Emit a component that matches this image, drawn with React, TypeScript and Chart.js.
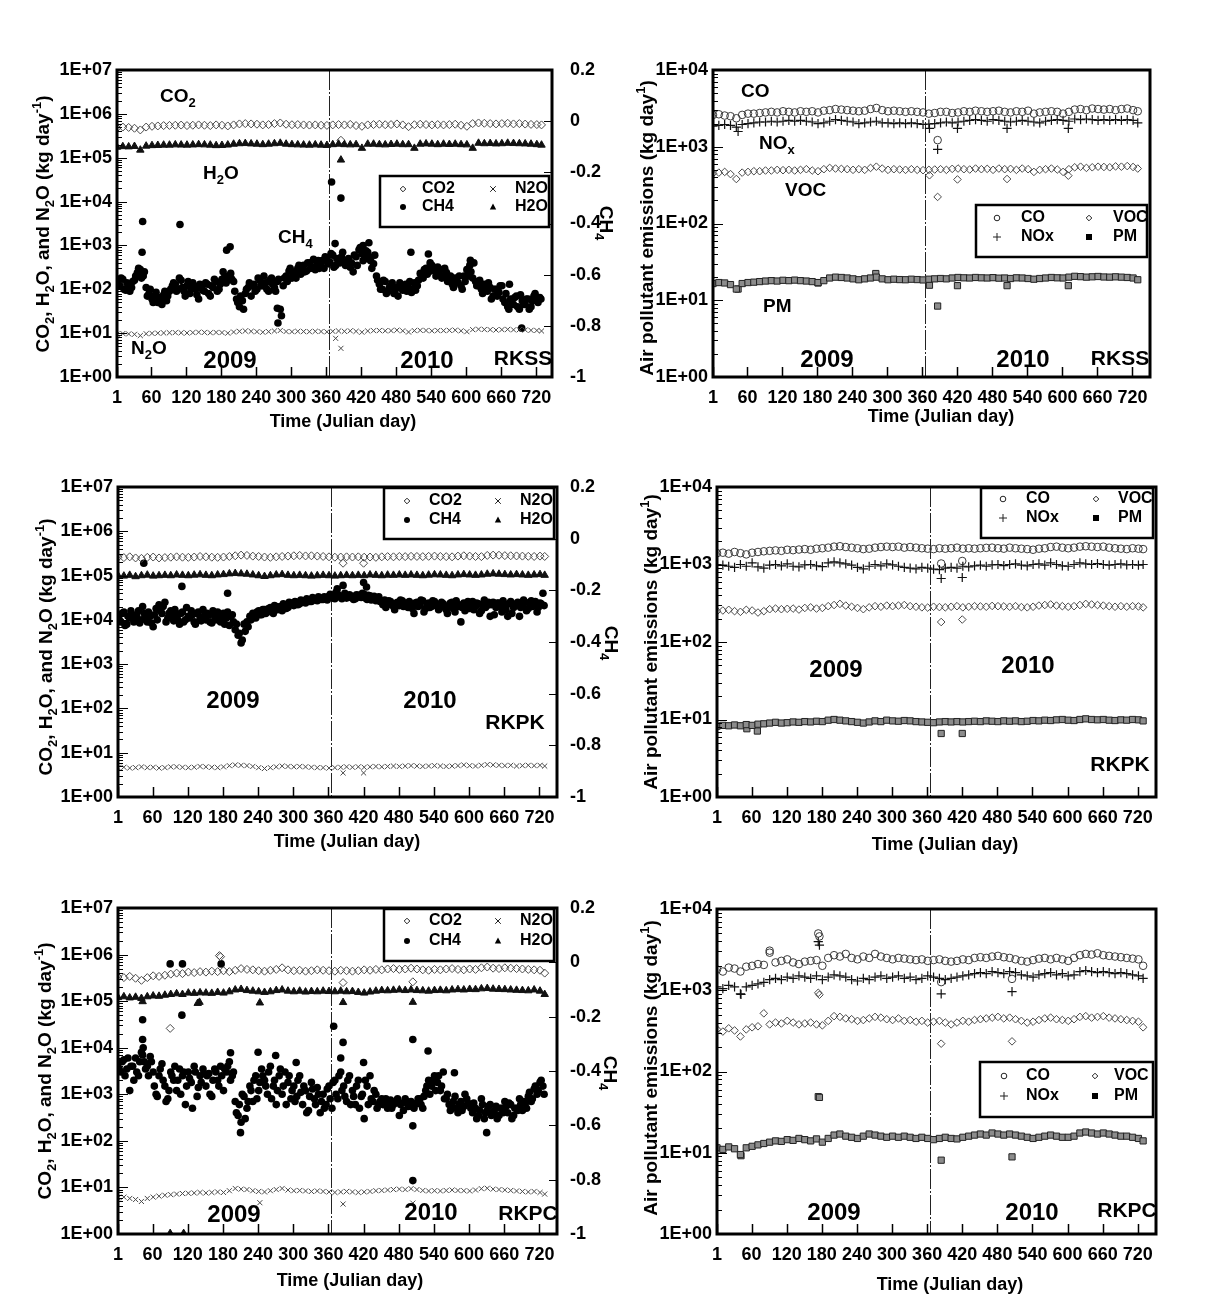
import React, { useEffect, useRef } from "react";
import { Chart, registerables } from "chart.js";

Chart.register(...registerables);

const FONT = "'Liberation Sans', Arial, Helvetica, sans-serif";
const PAGE_W = 1210;
const PAGE_H = 1312;

// ---------------- shared axis values ----------------
const X_TICKS = [1, 60, 120, 180, 240, 300, 360, 420, 480, 540, 600, 660, 720];
const Y_TICKS_GHG = [1, 10, 100, 1000, 10000, 100000, 1000000, 10000000];
const Y_TICKS_AP = [1, 10, 100, 1000, 10000];
const CH4_AXIS_TICKS = [0.2, 0, -0.2, -0.4, -0.6, -0.8, -1];
const YEAR_BOUNDARY_DAY = 365;

// sampling days (Julian day, 2009 = 1..365, 2010 = 366..730)
const DAYS10 = [
  1, 11, 21, 31, 41, 51, 61, 71, 81, 91,
  101, 111, 121, 131, 141, 151, 161, 171, 181, 191,
  201, 211, 221, 231, 241, 251, 261, 271, 281, 291,
  301, 311, 321, 331, 341, 351, 361, 371, 381, 391,
  401, 411, 421, 431, 441, 451, 461, 471, 481, 491,
  501, 511, 521, 531, 541, 551, 561, 571, 581, 591,
  601, 611, 621, 631, 641, 651, 661, 671, 681, 691,
  701, 711, 721, 729,
];
const DAYS5 = [
  1, 6, 11, 16, 21, 26, 31, 36, 41, 46,
  51, 56, 61, 66, 71, 76, 81, 86, 91, 96,
  101, 106, 111, 116, 121, 126, 131, 136, 141, 146,
  151, 156, 161, 166, 171, 176, 181, 186, 191, 196,
  201, 206, 211, 216, 221, 226, 231, 236, 241, 246,
  251, 256, 261, 266, 271, 276, 281, 286, 291, 296,
  301, 306, 311, 316, 321, 326, 331, 336, 341, 346,
  351, 356, 361, 366, 371, 376, 381, 386, 391, 396,
  401, 406, 411, 416, 421, 426, 431, 436, 441, 446,
  451, 456, 461, 466, 471, 476, 481, 486, 491, 496,
  501, 506, 511, 516, 521, 526, 531, 536, 541, 546,
  551, 556, 561, 566, 571, 576, 581, 586, 591, 596,
  601, 606, 611, 616, 621, 626, 631, 636, 641, 646,
  651, 656, 661, 666, 671, 676, 681, 686, 691, 696,
  701, 706, 711, 716, 721, 726,
];
const DAYS5B = [
  3, 8, 13, 18, 23, 28, 33, 38, 43, 48,
  53, 58, 63, 68, 73, 78, 83, 88, 93, 98,
  103, 108, 113, 118, 123, 128, 133, 138, 143, 148,
  153, 158, 163, 168, 173, 178, 183, 188, 193, 198,
  203, 208, 213, 218, 223, 228, 233, 238, 243, 248,
  253, 258, 263, 268, 273, 278, 283, 288, 293, 298,
  303, 308, 313, 318, 323, 328, 333, 338, 343, 348,
  353, 358, 363, 368, 373, 378, 383, 388, 393, 398,
  403, 408, 413, 418, 423, 428, 433, 438, 443, 448,
  453, 458, 463, 468, 473, 478, 483, 488, 493, 498,
  503, 508, 513, 518, 523, 528, 533, 538, 543, 548,
  553, 558, 563, 568, 573, 578, 583, 588, 593, 598,
  603, 608, 613, 618, 623, 628, 633, 638, 643, 648,
  653, 658, 663, 668, 673, 678, 683, 688, 693, 698,
  703, 708, 713, 718, 723, 728,
];

// ---------------- RKSS: GHG (kg/day; *_K in thousands) ----------------
const RKSS_CO2_K = [
  480, 500, 490, 470, 430, 500, 520, 530, 540, 545,
  550, 555, 540, 550, 560, 550, 540, 560, 550, 530,
  560, 590, 600, 590, 580, 560, 570, 600, 620, 580,
  565, 570, 560, 555, 560, 550, 545, 560, 570, 560,
  575, 540, 520, 560, 570, 580, 565, 570, 590, 560,
  510, 565, 580, 570, 560, 570, 560, 570, 580, 550,
  520, 600, 620, 610, 600, 590, 600, 610, 590, 600,
  585, 575, 570, 560,
];
const RKSS_H2O_K = [
  175, 180, 178, 182, 150, 185, 190, 192, 195, 195,
  198, 196, 195, 197, 200, 198, 195, 190, 192, 196,
  205, 210, 212, 208, 205, 200, 205, 210, 215, 205,
  200, 198, 196, 195, 198, 195, 192, 200, 205, 200,
  198, 200, 165, 205, 205, 200, 198, 202, 205, 200,
  200, 165, 205, 208, 205, 200, 205, 202, 205, 200,
  198, 165, 215, 210, 212, 208, 210, 215, 212, 210,
  208, 205, 200, 195,
];
const RKSS_N2O = [
  9.5, 9.8, 9.6, 9.4, 8.8, 9.7, 9.9, 10, 10.1, 10.2,
  10.3, 10.2, 10.1, 10.3, 10.5, 10.4, 10.2, 10.4, 10.3, 10,
  10.6, 11, 11.2, 11, 10.8, 10.5, 10.8, 11.2, 11.5, 10.9,
  10.8, 11, 10.9, 10.8, 11, 10.9, 10.7, 11, 11.2, 11,
  11.3, 11, 10.5, 11.2, 11.4, 11.5, 11.3, 11.4, 11.7, 11.3,
  10.6, 11.4, 11.6, 11.5, 11.3, 11.5, 11.4, 11.6, 11.7, 11.3,
  10.8, 12, 12.3, 12.1, 12, 11.8, 12, 12.2, 11.9, 12,
  11.8, 11.6, 11.5, 11.2,
];
const RKSS_CH4 = [
  150, 120, 170, 95, 130, 110, 160, 240, 280, 200,
  110, 80, 60, 70, 50, 60, 75, 55, 90, 120,
  130, 100, 160, 90, 120, 80, 140, 100, 60, 110,
  90, 130, 70, 110, 150, 100, 170, 200, 160, 230,
  150, 60, 40, 55, 80, 110, 70, 130, 100, 160,
  120, 140, 90, 180, 110, 150, 35, 120, 200, 260,
  180, 240, 300, 220, 350, 260, 400, 310, 280, 450,
  380, 300, 500, 420, 600, 350, 480, 550, 420, 380,
  320, 250, 550, 800, 650, 500, 700, 450, 380, 200,
  130, 100, 150, 90, 120, 80, 110, 140, 95, 130,
  110, 85, 140, 120, 230, 180, 300, 250, 350, 260,
  320, 280, 200, 240, 160, 130, 180, 140, 120, 200,
  280, 350, 180, 150, 120, 100, 130, 90, 110, 70,
  100, 85, 120, 50, 40, 60, 45, 70, 35, 55,
  45, 60, 40, 70, 55, 65,
];
const RKSS_CH4_B = [
  130, 180, 100, 140, 90, 150, 200, 300, 180, 250,
  70, 100, 50, 85, 65, 45, 90, 70, 100, 140,
  90, 180, 110, 70, 150, 100, 120, 75, 130, 95,
  140, 80, 120, 170, 90, 130, 250, 140, 200, 170,
  90, 50, 70, 35, 100, 140, 120, 90, 180, 120,
  200, 100, 160, 130, 90, 170, 25, 180, 150, 300,
  220, 180, 350, 280, 250, 400, 300, 480, 350, 300,
  450, 550, 380, 650, 320, 500, 400, 700, 350, 500,
  400, 600, 350, 900, 450, 750, 550, 300, 600, 160,
  100, 160, 80, 110, 140, 95, 70, 120, 110, 90,
  150, 100, 95, 160, 200, 280, 220, 400, 300, 200,
  250, 180, 300, 150, 200, 110, 160, 200, 100, 150,
  200, 250, 400, 120, 160, 80, 100, 140, 60, 100,
  70, 120, 60, 80, 35, 50, 65, 40, 75, 45,
  60, 35, 55, 80, 50, 60,
];
const RKSS_CO2_OUT_K = [[385, 250]];
const RKSS_H2O_OUT_K = [[385, 89]];
const RKSS_N2O_OUT = [[376, 7.6], [385, 4.5]];
const RKSS_CH4_OUT = [
  [45, 3500], [44, 700], [109, 3000], [189, 780], [195, 930], [276, 37], [277, 17],
  [369, 28000], [385, 12000], [375, 1100], [423, 1000], [433, 1150], [505, 700],
  [535, 640], [607, 460], [674, 130], [695, 13],
];

// ---------------- RKSS: air pollutants (kg/day) ----------------
const RKSS_CO = [
  2600, 2650, 2550, 2500, 2350, 2600, 2700, 2700, 2750, 2800,
  2850, 2800, 2900, 2850, 2800, 2900, 2850, 2900, 2800, 2950,
  3000, 3100, 3050, 3000, 2950, 2900, 2950, 3100, 3200, 3000,
  2900, 2950, 2900, 2850, 2900, 2850, 2800, 2700, 2750, 2850,
  2850, 2750, 2800, 2900, 2850, 2950, 2900, 2850, 2900, 2950,
  2850, 2800, 2900, 2850, 2950, 2700, 2800, 2850, 2900, 2850,
  2700, 2850, 3050, 3100, 3000, 3150, 3100, 3050, 3100, 3000,
  3100, 3150, 3000, 2900,
];
const RKSS_NOX = [
  1850, 1900, 1950, 1900, 1800, 1950, 2000, 2050, 2100, 2100,
  2150, 2100, 2150, 2200, 2150, 2200, 2150, 2100, 2000, 2050,
  2150, 2250, 2200, 2150, 2100, 2000, 2050, 2100, 2150, 2050,
  2050, 2000, 2050, 2000, 2050, 2000, 1950, 1980, 2000, 2050,
  2100, 2050, 2100, 2150, 2200, 2250, 2200, 2150, 2250, 2200,
  2150, 2100, 2150, 2200, 2150, 2100, 2050, 2150, 2200, 2250,
  2200, 2150, 2300, 2250, 2300, 2250, 2200, 2250, 2200, 2250,
  2200, 2250, 2200, 2050,
];
const RKSS_VOC = [
  450, 460, 470, 440, 380, 460, 470, 480, 480, 490,
  490, 500, 495, 500, 490, 500, 510, 490, 480, 510,
  530, 520, 515, 510, 500, 510, 500, 530, 550, 520,
  500, 510, 505, 500, 510, 500, 495, 500, 505, 510,
  500, 515, 520, 510, 505, 520, 510, 515, 500, 520,
  510, 515, 500, 520, 510, 470, 500, 510, 520, 505,
  470, 510, 540, 550, 530, 540, 550, 545, 540, 555,
  550, 560, 545, 520,
];
const RKSS_PM = [
  16.5, 17, 16.8, 16, 14, 16.5, 17, 17.2, 17.5, 17.8,
  18, 17.8, 18.2, 18, 18.3, 18, 17.8, 17.5, 17, 18,
  19.5, 20, 19.8, 19.5, 19, 18.5, 19, 19.5, 20, 19,
  18.5, 18.8, 18.6, 18.5, 18.8, 18.6, 18.4, 18.8, 19, 19.2,
  19, 19.5, 19.8, 19.6, 19.5, 19.8, 19.6, 19.5, 19.7, 19.4,
  19.5, 19.2, 19.6, 19.5, 19.2, 18.8, 19.2, 19.5, 19.8, 19.6,
  19.5, 20, 20.5, 20.3, 20, 20.2, 20.4, 20.1, 20, 20.2,
  20, 19.8, 19.5, 18.5,
];
const RKSS_CO_OUT = [[386, 1220]];
const RKSS_NOX_OUT = [[44, 1580], [372, 1740], [386, 925], [420, 1740], [505, 1740], [610, 1740]];
const RKSS_VOC_OUT = [[372, 425], [386, 222], [420, 375], [505, 380], [610, 420]];
const RKSS_PM_OUT = [[44, 14], [181, 16.8], [280, 22.3], [372, 15.7], [386, 8.4], [420, 15.5], [505, 15.5], [610, 15.5]];

// ---------------- RKPK: GHG ----------------
const RKPK_CO2_K = [
  260, 255, 265, 250, 245, 258, 262, 250, 255, 260,
  265, 260, 258, 262, 270, 265, 260, 258, 262, 270,
  280, 290, 285, 275, 270, 262, 258, 265, 270, 275,
  280, 285, 278, 280, 275, 270, 265, 260, 262, 265,
  262, 265, 260, 262, 258, 265, 268, 265, 270, 268,
  272, 270, 268, 272, 275, 270, 268, 265, 275, 280,
  275, 270, 268, 285, 290, 288, 282, 280, 278, 275,
  272, 270, 275, 270,
];
const RKPK_H2O_K = [
  100, 98, 102, 95, 100, 103, 98, 100, 102, 100,
  104, 102, 100, 103, 105, 102, 100, 104, 106, 110,
  112, 110, 108, 104, 100, 96, 100, 104, 106, 102,
  100, 102, 100, 98, 100, 102, 100, 98, 100, 102,
  100, 102, 100, 104, 102, 100, 103, 102, 104, 102,
  104, 102, 100, 103, 105, 104, 102, 100, 104, 106,
  104, 102, 104, 108, 110, 108, 106, 104, 106, 104,
  102, 104, 106, 102,
];
const RKPK_N2O = [
  4.6, 4.7, 4.5, 4.6, 4.8, 4.6, 4.7, 4.5, 4.6, 4.8,
  4.8, 4.7, 4.6, 4.7, 4.9, 4.8, 4.7, 4.6, 4.8, 5.1,
  5.3, 5.2, 5.1, 4.9, 4.6, 4.4, 4.6, 4.8, 5, 4.9,
  4.8, 4.9, 4.8, 4.7, 4.6, 4.6, 4.5, 4.6, 4.7, 4.8,
  4.7, 4.8, 4.7, 4.8, 4.9, 4.8, 4.9, 5, 4.9, 5,
  5.1, 5, 4.9, 5, 5.1, 5, 4.9, 5, 5.1, 5.3,
  5.1, 5, 5.2, 5.4, 5.3, 5.2, 5.1, 5.2, 5, 5.1,
  5.2, 5.1, 5.2, 5,
];
const RKPK_CH4 = [
  12000, 9000, 15000, 8000, 11000, 13000, 9500, 16000, 10000, 14000,
  9000, 12000, 7000, 18000, 22000, 14000, 25000, 11000, 16000, 9500,
  13000, 8000, 15000, 10000, 12000, 16000, 9000, 14000, 11000, 17000,
  10000, 13000, 8500, 12000, 15000, 9000, 14000, 11000, 7500, 13000,
  6000, 4500, 3000, 8000, 9000, 12000, 14000, 11000, 16000, 13000,
  17000, 15000, 19000, 14000, 20000, 18000, 16000, 22000, 19000, 24000,
  21000, 25000, 23000, 27000, 24000, 28000, 26000, 30000, 27000, 31000,
  29000, 32000, 34000, 36000, 30000, 38000, 33000, 35000, 31000, 37000,
  34000, 30000, 36000, 32000, 38000, 29000, 35000, 31000, 27000, 33000,
  25000, 28000, 22000, 26000, 20000, 24000, 21000, 27000, 23000, 19000,
  22000, 14000, 25000, 21000, 27000, 18000, 24000, 20000, 26000, 22000,
  19000, 23000, 17000, 21000, 25000, 15000, 20000, 9000, 24000, 21000,
  18000, 26000, 20000, 23000, 16000, 28000, 21000, 12000, 25000, 19000,
  24000, 15000, 22000, 12000, 26000, 19000, 23000, 12000, 21000, 25000,
  18000, 27000, 22000, 15000, 24000, 40000,
];
const RKPK_CH4_B = [
  10000, 14000, 7500, 12000, 16000, 9000, 13000, 8500, 20000, 11000,
  15000, 8500, 13000, 10000, 16000, 20000, 9000, 14000, 12000, 17000,
  10000, 14000, 9000, 19000, 11000, 13000, 8000, 15000, 9500, 12000,
  14000, 9000, 16000, 10000, 13000, 11000, 8000, 15000, 12000, 9000,
  8000, 5000, 3500, 5500, 7000, 10000, 12000, 15000, 13000, 17000,
  14000, 18000, 16000, 21000, 17000, 20000, 23000, 18000, 25000, 22000,
  26000, 22000, 28000, 25000, 30000, 26000, 32000, 28000, 33000, 29000,
  33000, 28000, 38000, 31000, 42000, 35000, 30000, 40000, 34000, 32000,
  29000, 37000, 33000, 40000, 31000, 36000, 28000, 34000, 30000, 26000,
  22000, 19000, 27000, 23000, 17000, 25000, 28000, 20000, 24000, 26000,
  18000, 24000, 20000, 28000, 15000, 23000, 19000, 27000, 21000, 17000,
  25000, 20000, 14000, 24000, 18000, 27000, 22000, 19000, 16000, 26000,
  22000, 17000, 24000, 14000, 21000, 19000, 25000, 22000, 13000, 24000,
  20000, 27000, 17000, 23000, 14000, 21000, 25000, 19000, 28000, 16000,
  24000, 20000, 26000, 19000, 23000, 21000,
];
const RKPK_CO2_OUT_K = [[385, 190], [420, 190]];
const RKPK_N2O_OUT = [[385, 3.5], [420, 3.5]];
const RKPK_CH4_OUT = [[45, 190000], [110, 57000], [188, 40000], [375, 50000], [385, 60000], [420, 70000], [425, 55000]];

// ---------------- RKPK: air pollutants ----------------
const RKPK_CO = [
  1400, 1420, 1380, 1450, 1400, 1350, 1420, 1450, 1480, 1500,
  1520, 1500, 1550, 1530, 1560, 1580, 1550, 1600, 1620, 1650,
  1700, 1720, 1680, 1650, 1620, 1580, 1600, 1650, 1680, 1700,
  1680, 1700, 1650, 1680, 1650, 1620, 1600, 1580, 1620, 1600,
  1620, 1650, 1600, 1620, 1600, 1620, 1640, 1650, 1620, 1600,
  1650, 1620, 1600, 1580, 1550, 1600, 1620, 1680, 1700, 1650,
  1620, 1650, 1700, 1720, 1700, 1680, 1700, 1650, 1620, 1600,
  1580, 1620, 1600, 1580,
];
const RKPK_NOX = [
  1000, 980, 950, 920, 1000, 950, 1050, 930, 900, 980,
  1000, 960, 1020, 950, 930, 990, 1000, 960, 940, 1050,
  1080, 1050, 1020, 980, 920, 880, 950, 1000, 960, 1020,
  990, 950, 920, 900, 880, 920, 900, 870, 860, 900,
  920, 900, 950, 930, 960, 980, 950, 990, 1000, 970,
  1000, 1020, 980, 960, 1000, 1020, 980, 1050, 1000, 960,
  950, 1000, 1050, 1020, 1000, 1030, 1000, 980, 1000, 1020,
  990, 1000, 980, 1000,
];
const RKPK_VOC = [
  250, 255, 260, 250, 245, 260, 255, 240, 250, 265,
  270, 265, 268, 270, 262, 275, 280, 270, 275, 290,
  300, 310, 295, 285, 275, 265, 280, 290, 285, 295,
  290, 295, 300, 290, 285, 280, 278, 285, 282, 280,
  285, 290, 280, 285, 290, 288, 285, 292, 290, 288,
  285, 290, 282, 280, 285, 295, 300, 305, 295, 290,
  285, 290, 300, 310, 305, 300, 295, 290, 285, 290,
  285, 290, 288, 280,
];
const RKPK_PM = [
  8.2, 8.4, 8.3, 8.5, 8.3, 8.6, 8.4, 8.7, 8.8, 9,
  9.2, 9, 9.1, 9.3, 9.2, 9.4, 9.3, 9.5, 9.4, 9.8,
  10, 9.8, 9.6, 9.4, 9.2, 9, 9.3, 9.6, 9.4, 9.8,
  9.6, 9.5, 9.7, 9.6, 9.4, 9.3, 9.2, 9.1, 9.3, 9.4,
  9.3, 9.4, 9.3, 9.4, 9.5, 9.4, 9.6, 9.5, 9.4, 9.6,
  9.5, 9.6, 9.4, 9.5, 9.7, 9.6, 9.8, 9.7, 9.9, 10,
  9.8, 9.7, 10, 10.2, 10, 9.9, 10, 9.8, 9.7, 9.9,
  9.8, 10, 9.9, 9.6,
];
const RKPK_CO_OUT = [[384, 1030], [420, 1110]];
const RKPK_NOX_OUT = [[384, 660], [420, 680]];
const RKPK_VOC_OUT = [[384, 181], [420, 195]];
const RKPK_PM_OUT = [[52, 7.6], [70, 7.1], [384, 6.6], [420, 6.6]];

// ---------------- RKPC: GHG ----------------
const RKPC_CO2_K = [
  330, 320, 340, 310, 280, 320, 350, 340, 360, 380,
  400, 390, 420, 410, 430, 420, 440, 430, 450, 430,
  460, 500, 480, 470, 450, 440, 460, 480, 520, 470,
  450, 460, 440, 450, 470, 460, 450, 440, 460, 450,
  440, 450, 470, 460, 480, 470, 490, 500, 480, 490,
  510, 490, 470, 460, 480, 470, 490, 500, 480, 470,
  490, 480, 520, 540, 510, 500, 520, 510, 500, 490,
  480, 470, 460, 400,
];
const RKPC_H2O_K = [
  120, 125, 118, 122, 115, 125, 130, 128, 135, 140,
  145, 140, 150, 148, 152, 150, 148, 155, 150, 160,
  175, 180, 170, 165, 160, 155, 160, 170, 175, 165,
  160, 165, 158, 162, 160, 165, 162, 160, 165, 160,
  162, 155, 150, 158, 165, 170, 168, 172, 175, 170,
  175, 170, 168, 165, 170, 172, 168, 175, 178, 175,
  180, 178, 185, 188, 182, 180, 178, 175, 172, 170,
  168, 175, 165, 140,
];
const RKPC_N2O = [
  6, 6.2, 5.8, 5.5, 5, 5.8, 6.2, 6.5, 6.8, 7,
  7.2, 7.4, 7.5, 7.6, 7.8, 7.6, 7.8, 8, 7.8, 8.5,
  9.5, 9.2, 9, 8.5, 8.2, 8, 8.5, 9, 9.5, 8.8,
  8.5, 8.6, 8.4, 8.2, 8.4, 8.2, 8, 7.8, 8, 8.2,
  8, 7.8, 8, 8.2, 8.5, 8.6, 8.8, 9, 9.2, 9,
  9.4, 9, 8.6, 8.4, 8.5, 8.4, 8.6, 8.8, 8.6, 8.5,
  8.4, 8.8, 9.4, 9.6, 9.2, 9, 8.8, 8.6, 8.4, 8.2,
  8, 8.2, 7.8, 7.2,
];
const RKPC_CH4 = [
  4500, 3000, 5500, 3500, 1200, 4000, 6000, 2500, 8000, 5000,
  4000, 6500, 3000, 1000, 2500, 4500, 1500, 800, 3000, 2000,
  1200, 3500, 2500, 600, 3000, 1800, 4000, 900, 2500, 3500,
  1500, 2800, 900, 3500, 2000, 4000, 1200, 3000, 5000, 2500,
  700, 350, 250, 900, 500, 1500, 700, 2500, 1200, 3500,
  2000, 1000, 4000, 1500, 600, 2500, 1000, 3000, 1800, 800,
  1500, 900, 2500, 600, 1200, 450, 1800, 800, 1400, 400,
  1000, 600, 1500, 500, 2000, 800, 3000, 1500, 700, 2500,
  1200, 600, 2000, 900, 300, 1500, 2500, 700, 1000, 600,
  800, 650, 500, 750, 600, 700, 350, 650, 800, 550,
  700, 500, 650, 800, 500, 1200, 2000, 1500, 2500, 1800,
  1200, 3000, 800, 600, 500, 900, 400, 700, 550, 800,
  600, 400, 500, 350, 800, 300, 450, 600, 400, 550,
  350, 500, 700, 400, 600, 350, 500, 800, 450, 650,
  900, 700, 1300, 1000, 1800, 1500,
];
const RKPC_CH4_B = [
  3500, 5000, 2500, 6000, 4000, 2000, 3000, 5000, 7000, 3500,
  2500, 5000, 1500, 900, 3500, 2000, 700, 1200, 2500, 4000,
  2000, 1000, 3000, 1500, 2200, 500, 3000, 1400, 1800, 2800,
  2500, 1000, 2000, 3000, 1500, 2500, 3500, 4000, 2000, 3000,
  400, 600, 1000, 300, 700, 1200, 2000, 800, 1800, 2500,
  1500, 3000, 800, 2000, 1200, 3500, 1500, 600, 2500, 1200,
  700, 2000, 1100, 1500, 400, 900, 1300, 600, 1000, 700,
  500, 1300, 800, 1800, 1000, 2500, 1200, 900, 2000, 600,
  900, 1500, 500, 1000, 2000, 600, 800, 1200, 500, 700,
  600, 800, 700, 500, 650, 800, 600, 450, 700, 600,
  550, 600, 800, 600, 900, 1500, 1000, 2000, 1200, 2500,
  1500, 800, 1000, 450, 700, 500, 600, 450, 1000, 650,
  500, 650, 300, 450, 600, 400, 550, 350, 450, 300,
  500, 400, 550, 650, 300, 500, 450, 600, 700, 500,
  1100, 800, 1500, 1200, 2000, 1000,
];
const RKPC_CO2_OUT_K = [[90, 26], [174, 950], [176, 900], [385, 250], [504, 260]];
const RKPC_H2O_OUT = [[43, 98000], [137, 90000], [140, 95000], [243, 92000], [385, 94000], [504, 95000], [90, 1.03], [113, 1.03]];
const RKPC_N2O_OUT = [[243, 4.7], [385, 4.4], [504, 4.6]];
const RKPC_CH4_OUT = [
  [43, 40000], [43, 15000], [44, 10000], [90, 630000], [111, 630000], [177, 630000],
  [110, 50000], [193, 7800], [210, 150], [240, 8000], [270, 6800], [305, 4800],
  [369, 29000], [385, 13000], [381, 6000], [420, 4800], [504, 15000], [504, 210],
  [504, 14], [530, 8500], [575, 2900], [630, 150],
];

// ---------------- RKPC: air pollutants ----------------
const RKPC_CO = [
  1800, 1700, 1900, 1850, 1700, 1950, 2000, 2100, 2050, 2900,
  2200, 2300, 2400, 2200, 2100, 2250, 2300, 2350, 2000, 2500,
  2700, 2600, 2800, 2500, 2400, 2600, 2500, 2800, 2600, 2500,
  2400, 2500, 2450, 2400, 2350, 2400, 2300, 2350, 2400, 2300,
  2250, 2300, 2400, 2350, 2500, 2550, 2500, 2600, 2650, 2550,
  2500, 2400, 2300, 2250, 2350, 2450, 2500, 2400, 2500, 2400,
  2300, 2500, 2700, 2800, 2750, 2850, 2700, 2650, 2600, 2550,
  2500, 2450, 2400, 2000,
];
const RKPC_NOX = [
  1100, 1050, 1150, 1100, 900, 1100, 1150, 1200, 1250, 1350,
  1400, 1350, 1450, 1400, 1500, 1450, 1400, 1500, 1350, 1450,
  1550, 1500, 1450, 1350, 1300, 1400, 1350, 1450, 1500, 1400,
  1450, 1500, 1400, 1450, 1350, 1400, 1500, 1450, 1400, 1350,
  1400, 1450, 1500, 1550, 1600, 1650, 1600, 1700, 1650, 1600,
  1700, 1650, 1550, 1500, 1450, 1550, 1600, 1650, 1550, 1600,
  1500, 1550, 1700, 1750, 1700, 1650, 1700, 1650, 1600, 1650,
  1600, 1550, 1500, 1400,
];
const RKPC_VOC = [
  330, 310, 340, 320, 270, 330, 350, 360, 520, 380,
  400, 390, 420, 400, 380, 390, 400, 380, 370, 420,
  480, 470, 450, 440, 420, 430, 450, 470, 460, 440,
  430, 450, 420, 430, 410, 420, 400, 410, 420, 400,
  380, 400, 420, 410, 430, 440, 450, 460, 470, 450,
  460, 440, 420, 400, 410, 430, 450, 460, 440, 430,
  420, 440, 470, 480, 460, 470, 480, 460, 450, 440,
  430, 420, 410, 350,
];
const RKPC_PM = [
  11.5, 11, 11.8, 11.2, 9.5, 11.5, 12, 12.5, 13, 13.5,
  14, 13.8, 14.5, 14.2, 15, 14.5, 14, 14.8, 13.5, 15,
  16.5, 17, 16, 15.5, 15, 16, 17, 16.5, 16, 15.5,
  16, 15.5, 16, 15.5, 15, 15.5, 15, 14.5, 15, 15.5,
  15, 14.8, 15.5, 16, 16.5, 17, 16.5, 17.5, 17, 16.5,
  17, 16.5, 16, 15.5, 15, 15.5, 16, 16.5, 16, 15.5,
  15.5, 16, 17.5, 18, 17.5, 17, 17.5, 17, 16.5, 16,
  16, 15.5, 15, 14,
];
const RKPC_CO_OUT = [[91, 3070], [174, 5000], [176, 4600], [384, 1260], [505, 1380]];
const RKPC_NOX_OUT = [[42, 890], [174, 3960], [176, 3600], [384, 900], [505, 960]];
const RKPC_VOC_OUT = [[174, 930], [176, 880], [384, 220], [505, 235]];
const RKPC_PM_OUT = [[174, 49], [176, 48], [42, 9.2], [384, 8.1], [505, 8.9]];

// ---------------- styles ----------------
const CLEAR = "rgba(255,255,255,0)";
const MARKERS: Record<string, any> = {
  co2: { pointStyle: "rectRot", pointRadius: 4, pointBackgroundColor: CLEAR, pointBorderColor: "#4a4a4a", pointBorderWidth: 1 },
  h2o: { pointStyle: "triangle", pointRadius: 4.3, pointBackgroundColor: "#111", pointBorderColor: "#111", pointBorderWidth: 1 },
  ch4: { pointStyle: "circle", pointRadius: 3.8, pointBackgroundColor: "#000", pointBorderColor: "#000", pointBorderWidth: 0 },
  n2o: { pointStyle: "crossRot", pointRadius: 3.6, pointBackgroundColor: CLEAR, pointBorderColor: "#4a4a4a", pointBorderWidth: 1 },
  co: { pointStyle: "circle", pointRadius: 3.8, pointBackgroundColor: CLEAR, pointBorderColor: "#3a3a3a", pointBorderWidth: 1 },
  nox: { pointStyle: "cross", pointRadius: 4.6, pointBackgroundColor: CLEAR, pointBorderColor: "#111", pointBorderWidth: 1.2 },
  voc: { pointStyle: "rectRot", pointRadius: 3.8, pointBackgroundColor: CLEAR, pointBorderColor: "#4a4a4a", pointBorderWidth: 1 },
  pm: { pointStyle: "rect", pointRadius: 4.4, pointBackgroundColor: "#8c8c8c", pointBorderColor: "#222", pointBorderWidth: 1 },
};

type Seg = [string, number]; // 0 normal, 1 subscript, 2 superscript
interface Series { days: number[]; vals: number[]; unit: number; style: string }
interface Outl { pts: number[][]; unit: number; style: string }
interface Note { segs: Seg[]; x: number; y: number; size: number; align: "left" | "center" }
interface LegItem { m: string; x: number; y: number; label: string; tx: number }
interface PanelCfg {
  rect: [number, number, number, number];
  xMax: number;
  yTicks: number[];
  hasRight: boolean;
  rightPad: number;
  series: Series[];
  outliers: Outl[];
  legend: { box: [number, number, number, number]; items: LegItem[] };
  notes: Note[];
  yTitle: { segs: Seg[]; x: number; y: number };
  xTitle: { x: number; y: number };
  rTitle?: { x: number; y: number };
}

const GHG_YTITLE: Seg[] = [["CO", 0], ["2", 1], [", H", 0], ["2", 1], ["O, and N", 0], ["2", 1], ["O (kg day", 0], ["-1", 2], [")", 0]];
const AP_YTITLE: Seg[] = [["Air pollutant emissions (kg day", 0], ["1", 2], [")", 0]];

const ghgLegend = (x0: number, y0: number, x1: number, y1: number, r1: number, r2: number, mx1: number, mx2: number, tx1: number, tx2: number) => ({
  box: [x0, y0, x1, y1] as [number, number, number, number],
  items: [
    { m: "diamond", x: mx1, y: r1, label: "CO2", tx: tx1 },
    { m: "x", x: mx2, y: r1, label: "N2O", tx: tx2 },
    { m: "dot", x: mx1, y: r2, label: "CH4", tx: tx1 },
    { m: "tri", x: mx2, y: r2, label: "H2O", tx: tx2 },
  ],
});
const apLegend = (x0: number, y0: number, x1: number, y1: number, r1: number, r2: number, mx1: number, mx2: number, tx1: number, tx2: number) => ({
  box: [x0, y0, x1, y1] as [number, number, number, number],
  items: [
    { m: "circle", x: mx1, y: r1, label: "CO", tx: tx1 },
    { m: "diamond", x: mx2, y: r1, label: "VOC", tx: tx2 },
    { m: "plus", x: mx1, y: r2, label: "NOx", tx: tx1 },
    { m: "square", x: mx2, y: r2, label: "PM", tx: tx2 },
  ],
});
const yr = (t: string, x: number, y: number): Note => ({ segs: [[t, 0]], x, y, size: 24, align: "center" });
const site = (t: string, x: number, y: number): Note => ({ segs: [[t, 0]], x, y, size: 21, align: "center" });
const lab = (segs: Seg[], x: number, y: number): Note => ({ segs, x, y, size: 19, align: "left" });

const PANELS: PanelCfg[] = [
  {
    rect: [117, 70, 552, 377], xMax: 747, yTicks: Y_TICKS_GHG, hasRight: true, rightPad: 18,
    series: [
      { days: DAYS10, vals: RKSS_CO2_K, unit: 1000, style: "co2" },
      { days: DAYS10, vals: RKSS_H2O_K, unit: 1000, style: "h2o" },
      { days: DAYS5, vals: RKSS_CH4, unit: 1, style: "ch4" },
      { days: DAYS5B, vals: RKSS_CH4_B, unit: 1, style: "ch4" },
      { days: DAYS10, vals: RKSS_N2O, unit: 1, style: "n2o" },
    ],
    outliers: [
      { pts: RKSS_CO2_OUT_K, unit: 1000, style: "co2" },
      { pts: RKSS_H2O_OUT_K, unit: 1000, style: "h2o" },
      { pts: RKSS_N2O_OUT, unit: 1, style: "n2o" },
      { pts: RKSS_CH4_OUT, unit: 1, style: "ch4" },
    ],
    legend: ghgLegend(380, 176, 549, 227, 189, 207, 403, 493, 422, 515),
    notes: [
      lab([["CO", 0], ["2", 1]], 160, 97),
      lab([["H", 0], ["2", 1], ["O", 0]], 203, 174),
      lab([["CH", 0], ["4", 1]], 278, 238),
      lab([["N", 0], ["2", 1], ["O", 0]], 131, 349),
      yr("2009", 230, 361), yr("2010", 427, 361), site("RKSS", 523, 359),
    ],
    yTitle: { segs: GHG_YTITLE, x: 44, y: 224 },
    xTitle: { x: 343, y: 422 },
    rTitle: { x: 605, y: 223 },
  },
  {
    rect: [713, 70, 1150, 377], xMax: 750, yTicks: Y_TICKS_AP, hasRight: false, rightPad: 0,
    series: [
      { days: DAYS10, vals: RKSS_CO, unit: 1, style: "co" },
      { days: DAYS10, vals: RKSS_NOX, unit: 1, style: "nox" },
      { days: DAYS10, vals: RKSS_VOC, unit: 1, style: "voc" },
      { days: DAYS10, vals: RKSS_PM, unit: 1, style: "pm" },
    ],
    outliers: [
      { pts: RKSS_CO_OUT, unit: 1, style: "co" },
      { pts: RKSS_NOX_OUT, unit: 1, style: "nox" },
      { pts: RKSS_VOC_OUT, unit: 1, style: "voc" },
      { pts: RKSS_PM_OUT, unit: 1, style: "pm" },
    ],
    legend: apLegend(976, 205, 1147, 257, 218, 237, 997, 1089, 1021, 1113),
    notes: [
      lab([["CO", 0]], 741, 92),
      lab([["NO", 0], ["x", 1]], 759, 144),
      lab([["VOC", 0]], 785, 191),
      lab([["PM", 0]], 763, 307),
      yr("2009", 827, 360), yr("2010", 1023, 360), site("RKSS", 1120, 359),
    ],
    yTitle: { segs: AP_YTITLE, x: 648, y: 228 },
    xTitle: { x: 941, y: 417 },
  },
  {
    rect: [118, 487, 557, 797], xMax: 750, yTicks: Y_TICKS_GHG, hasRight: true, rightPad: 13,
    series: [
      { days: DAYS10, vals: RKPK_CO2_K, unit: 1000, style: "co2" },
      { days: DAYS10, vals: RKPK_H2O_K, unit: 1000, style: "h2o" },
      { days: DAYS5, vals: RKPK_CH4, unit: 1, style: "ch4" },
      { days: DAYS5B, vals: RKPK_CH4_B, unit: 1, style: "ch4" },
      { days: DAYS10, vals: RKPK_N2O, unit: 1, style: "n2o" },
    ],
    outliers: [
      { pts: RKPK_CO2_OUT_K, unit: 1000, style: "co2" },
      { pts: RKPK_N2O_OUT, unit: 1, style: "n2o" },
      { pts: RKPK_CH4_OUT, unit: 1, style: "ch4" },
    ],
    legend: ghgLegend(384, 488, 554, 539, 501, 520, 407, 498, 429, 520),
    notes: [yr("2009", 233, 701), yr("2010", 430, 701), site("RKPK", 515, 723)],
    yTitle: { segs: GHG_YTITLE, x: 47, y: 647 },
    xTitle: { x: 347, y: 842 },
    rTitle: { x: 610, y: 643 },
  },
  {
    rect: [717, 487, 1156, 797], xMax: 751, yTicks: Y_TICKS_AP, hasRight: false, rightPad: 0,
    series: [
      { days: DAYS10, vals: RKPK_CO, unit: 1, style: "co" },
      { days: DAYS10, vals: RKPK_NOX, unit: 1, style: "nox" },
      { days: DAYS10, vals: RKPK_VOC, unit: 1, style: "voc" },
      { days: DAYS10, vals: RKPK_PM, unit: 1, style: "pm" },
    ],
    outliers: [
      { pts: RKPK_CO_OUT, unit: 1, style: "co" },
      { pts: RKPK_NOX_OUT, unit: 1, style: "nox" },
      { pts: RKPK_VOC_OUT, unit: 1, style: "voc" },
      { pts: RKPK_PM_OUT, unit: 1, style: "pm" },
    ],
    legend: apLegend(981, 488, 1153, 538, 499, 518, 1003, 1096, 1026, 1118),
    notes: [yr("2009", 836, 670), yr("2010", 1028, 666), site("RKPK", 1120, 765)],
    yTitle: { segs: AP_YTITLE, x: 652, y: 642 },
    xTitle: { x: 945, y: 845 },
  },
  {
    rect: [118, 908, 557, 1234], xMax: 750, yTicks: Y_TICKS_GHG, hasRight: true, rightPad: 13,
    series: [
      { days: DAYS10, vals: RKPC_CO2_K, unit: 1000, style: "co2" },
      { days: DAYS10, vals: RKPC_H2O_K, unit: 1000, style: "h2o" },
      { days: DAYS5, vals: RKPC_CH4, unit: 1, style: "ch4" },
      { days: DAYS5B, vals: RKPC_CH4_B, unit: 1, style: "ch4" },
      { days: DAYS10, vals: RKPC_N2O, unit: 1, style: "n2o" },
    ],
    outliers: [
      { pts: RKPC_CO2_OUT_K, unit: 1000, style: "co2" },
      { pts: RKPC_H2O_OUT, unit: 1, style: "h2o" },
      { pts: RKPC_N2O_OUT, unit: 1, style: "n2o" },
      { pts: RKPC_CH4_OUT, unit: 1, style: "ch4" },
    ],
    legend: ghgLegend(384, 909, 554, 961, 921, 941, 407, 498, 429, 520),
    notes: [yr("2009", 234, 1215), yr("2010", 431, 1213), site("RKPC", 528, 1214)],
    yTitle: { segs: GHG_YTITLE, x: 46, y: 1071 },
    xTitle: { x: 350, y: 1281 },
    rTitle: { x: 609, y: 1073 },
  },
  {
    rect: [717, 909, 1156, 1234], xMax: 751, yTicks: Y_TICKS_AP, hasRight: false, rightPad: 0,
    series: [
      { days: DAYS10, vals: RKPC_CO, unit: 1, style: "co" },
      { days: DAYS10, vals: RKPC_NOX, unit: 1, style: "nox" },
      { days: DAYS10, vals: RKPC_VOC, unit: 1, style: "voc" },
      { days: DAYS10, vals: RKPC_PM, unit: 1, style: "pm" },
    ],
    outliers: [
      { pts: RKPC_CO_OUT, unit: 1, style: "co" },
      { pts: RKPC_NOX_OUT, unit: 1, style: "nox" },
      { pts: RKPC_VOC_OUT, unit: 1, style: "voc" },
      { pts: RKPC_PM_OUT, unit: 1, style: "pm" },
    ],
    legend: apLegend(980, 1062, 1153, 1117, 1076, 1096, 1004, 1095, 1026, 1114),
    notes: [yr("2009", 834, 1213), yr("2010", 1032, 1213), site("RKPC", 1127, 1211)],
    yTitle: { segs: AP_YTITLE, x: 652, y: 1068 },
    xTitle: { x: 950, y: 1285 },
  },
];

// ---------------- drawing helpers ----------------
function drawRich(ctx: CanvasRenderingContext2D, segs: Seg[], x: number, y: number, size: number, align: "left" | "center", rot = 0) {
  ctx.save();
  ctx.translate(x, y);
  if (rot) ctx.rotate(rot);
  ctx.textBaseline = "middle";
  ctx.textAlign = "left";
  ctx.fillStyle = "#000";
  const fontFor = (k: number) => `bold ${k === 0 ? size : Math.round(size * 0.66)}px ${FONT}`;
  let total = 0;
  const widths = segs.map(([t, k]) => {
    ctx.font = fontFor(k);
    const w = ctx.measureText(t).width;
    total += w;
    return w;
  });
  let cx = align === "center" ? -total / 2 : 0;
  segs.forEach(([t, k], i) => {
    ctx.font = fontFor(k);
    const dy = k === 1 ? size * 0.32 : k === 2 ? -size * 0.36 : 0;
    ctx.fillText(t, cx, dy);
    cx += widths[i];
  });
  ctx.restore();
}

function drawMarker(ctx: CanvasRenderingContext2D, m: string, x: number, y: number) {
  ctx.save();
  ctx.strokeStyle = "#222";
  ctx.fillStyle = "#000";
  ctx.lineWidth = 1;
  ctx.beginPath();
  if (m === "diamond") {
    const r = 2.8;
    ctx.moveTo(x, y - r); ctx.lineTo(x + r, y); ctx.lineTo(x, y + r); ctx.lineTo(x - r, y); ctx.closePath(); ctx.stroke();
  } else if (m === "dot") {
    ctx.arc(x, y, 3, 0, Math.PI * 2); ctx.fill();
  } else if (m === "circle") {
    ctx.arc(x, y, 2.8, 0, Math.PI * 2); ctx.stroke();
  } else if (m === "tri") {
    ctx.moveTo(x, y - 3.5); ctx.lineTo(x + 3.2, y + 2.5); ctx.lineTo(x - 3.2, y + 2.5); ctx.closePath(); ctx.fill();
  } else if (m === "x") {
    ctx.moveTo(x - 2.8, y - 2.8); ctx.lineTo(x + 2.8, y + 2.8); ctx.moveTo(x + 2.8, y - 2.8); ctx.lineTo(x - 2.8, y + 2.8); ctx.stroke();
  } else if (m === "plus") {
    ctx.moveTo(x - 4, y); ctx.lineTo(x + 4, y); ctx.moveTo(x, y - 4); ctx.lineTo(x, y + 4); ctx.stroke();
  } else if (m === "square") {
    ctx.fillRect(x - 3, y - 3, 6, 6);
  }
  ctx.restore();
}

function panelPlugin(cfg: PanelCfg) {
  return {
    id: "panelDecor",
    beforeDatasetsDraw(chart: any) {
      const { ctx, chartArea: ca, scales } = chart;
      const px = Math.round(scales.x.getPixelForValue(YEAR_BOUNDARY_DAY)) + 0.5;
      ctx.save();
      ctx.strokeStyle = "#222";
      ctx.lineWidth = 1;
      ctx.setLineDash([20, 2, 2, 2]);
      ctx.beginPath();
      ctx.moveTo(px, ca.top);
      ctx.lineTo(px, ca.bottom);
      ctx.stroke();
      ctx.restore();
    },
    afterDraw(chart: any) {
      const { ctx, chartArea: ca, scales } = chart;
      ctx.save();
      // frame
      ctx.strokeStyle = "#000";
      ctx.lineWidth = 3;
      ctx.strokeRect(ca.left, ca.top, ca.right - ca.left, ca.bottom - ca.top);
      // x ticks (inward)
      ctx.lineWidth = 1.5;
      ctx.beginPath();
      for (const v of X_TICKS) {
        const px = Math.round(scales.x.getPixelForValue(v)) + 0.5;
        ctx.moveTo(px, ca.bottom);
        ctx.lineTo(px, ca.bottom - 10);
      }
      ctx.stroke();
      // y log ticks, major + minor (inward)
      ctx.lineWidth = 1;
      ctx.beginPath();
      const top = cfg.yTicks[cfg.yTicks.length - 1];
      for (const d of cfg.yTicks) {
        for (let m = 1; m <= 9; m++) {
          const v = d * m;
          if (v > top) break;
          const py = Math.round(scales.y.getPixelForValue(v)) + 0.5;
          ctx.moveTo(ca.left, py);
          ctx.lineTo(ca.left + (m === 1 ? 10 : 5), py);
        }
      }
      ctx.stroke();
      if (cfg.hasRight) {
        ctx.beginPath();
        for (const v of CH4_AXIS_TICKS) {
          const py = Math.round(scales.y2.getPixelForValue(v)) + 0.5;
          ctx.moveTo(ca.right, py);
          ctx.lineTo(ca.right - 8, py);
        }
        ctx.stroke();
      }
      // legend
      const [bx0, by0, bx1, by1] = cfg.legend.box;
      ctx.fillStyle = "#fff";
      ctx.fillRect(bx0, by0, bx1 - bx0, by1 - by0);
      ctx.lineWidth = 2.5;
      ctx.strokeStyle = "#000";
      ctx.strokeRect(bx0, by0, bx1 - bx0, by1 - by0);
      for (const it of cfg.legend.items) {
        drawMarker(ctx, it.m, it.x, it.y);
        drawRich(ctx, [[it.label, 0]], it.tx, it.y, 16, "left");
      }
      // annotations
      for (const n of cfg.notes) drawRich(ctx, n.segs, n.x, n.y, n.size, n.align);
      // axis titles
      drawRich(ctx, cfg.yTitle.segs, cfg.yTitle.x, cfg.yTitle.y, 19, "center", -Math.PI / 2);
      drawRich(ctx, [["Time (Julian day)", 0]], cfg.xTitle.x, cfg.xTitle.y, 18, "center");
      if (cfg.rTitle) drawRich(ctx, [["CH", 0], ["4", 1]], cfg.rTitle.x, cfg.rTitle.y, 19, "center", Math.PI / 2);
      ctx.restore();
    },
  };
}

function buildConfig(cfg: PanelCfg): any {
  const [l, t, r, b] = cfg.rect;
  const Y_W = 100, X_H = 40, R_W = 60;
  const datasets: any[] = [];
  const mk = (data: { x: number; y: number }[], style: string) => ({ data, showLine: false, pointHoverRadius: 0, ...MARKERS[style] });
  for (const s of cfg.series) {
    const n = Math.min(s.days.length, s.vals.length);
    const data: { x: number; y: number }[] = [];
    for (let i = 0; i < n; i++) data.push({ x: s.days[i], y: s.vals[i] * s.unit });
    datasets.push(mk(data, s.style));
  }
  for (const o of cfg.outliers) datasets.push(mk(o.pts.map(([d, v]) => ({ x: d, y: v * o.unit })), o.style));

  const tickFont = { family: FONT, size: 18, weight: "bold" as const };
  const scales: any = {
    x: {
      type: "linear", position: "bottom", min: 1, max: cfg.xMax,
      afterBuildTicks: (s: any) => { s.ticks = X_TICKS.map((v) => ({ value: v })); },
      afterFit: (s: any) => { s.height = X_H; },
      grid: { display: false, drawTicks: false },
      border: { display: false },
      ticks: { autoSkip: false, maxRotation: 0, minRotation: 0, padding: 10, color: "#000", font: tickFont, callback: (v: any) => String(v) },
    },
    y: {
      type: "logarithmic", position: "left", min: 1, max: cfg.yTicks[cfg.yTicks.length - 1],
      afterBuildTicks: (s: any) => { s.ticks = cfg.yTicks.map((v) => ({ value: v })); },
      afterFit: (s: any) => { s.width = Y_W; },
      grid: { display: false, drawTicks: false },
      border: { display: false },
      ticks: {
        autoSkip: false, padding: 5, color: "#000", font: tickFont,
        callback: (v: any) => {
          const e = Math.round(Math.log10(Number(v)));
          return "1E+" + (e < 10 ? "0" + e : String(e));
        },
      },
    },
  };
  if (cfg.hasRight) {
    scales.y2 = {
      type: "linear", position: "right", min: -1, max: 0.2,
      afterBuildTicks: (s: any) => { s.ticks = CH4_AXIS_TICKS.map((v) => ({ value: v })); },
      afterFit: (s: any) => { s.width = R_W; },
      grid: { display: false, drawTicks: false },
      border: { display: false },
      ticks: {
        autoSkip: false, padding: cfg.rightPad, color: "#000", font: tickFont,
        callback: (v: any) => {
          const rr = Math.round(Number(v) * 10) / 10;
          return rr === 0 ? "0" : String(rr);
        },
      },
    };
  }
  return {
    type: "scatter",
    data: { datasets },
    options: {
      responsive: false,
      animation: false,
      devicePixelRatio: 1,
      events: [],
      layout: {
        padding: {
          left: l - Y_W,
          top: t,
          right: PAGE_W - r - (cfg.hasRight ? R_W : 0),
          bottom: PAGE_H - b - X_H,
        },
      },
      plugins: { legend: { display: false }, tooltip: { enabled: false }, title: { display: false } },
      scales,
    },
    plugins: [panelPlugin(cfg)],
  };
}

function PanelChart({ cfg }: { cfg: PanelCfg }) {
  const ref = useRef<HTMLCanvasElement | null>(null);
  useEffect(() => {
    if (!ref.current) return;
    const chart = new Chart(ref.current, buildConfig(cfg));
    return () => chart.destroy();
  }, [cfg]);
  return (
    <canvas
      ref={ref}
      width={PAGE_W}
      height={PAGE_H}
      style={{ position: "absolute", left: 0, top: 0, width: PAGE_W, height: PAGE_H }}
    />
  );
}

export default function App() {
  return (
    <div style={{ position: "absolute", left: 0, top: 0, width: PAGE_W, height: PAGE_H, background: "#fff", overflow: "hidden" }}>
      {PANELS.map((p, i) => (
        <PanelChart key={i} cfg={p} />
      ))}
    </div>
  );
}
